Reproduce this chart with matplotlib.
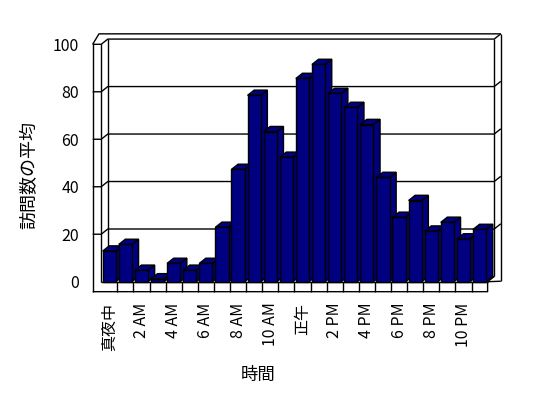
import matplotlib
matplotlib.use("Agg")
import matplotlib.pyplot as plt
from matplotlib.patches import Polygon

plt.rcParams['font.family'] = ['Noto Sans CJK JP', 'DejaVu Sans']

# average visits per hour (0 = midnight)
hours = list(range(24))
visits = [12.9, 15.7, 4.8, 1.2, 7.7, 4.8, 7.7, 22.9, 47.3, 78.5, 63.2, 52.4,
          85.6, 91.5, 79.3, 73.4, 66.2, 43.9, 27.1, 34.2, 21.3, 25.0, 18.0, 22.0]
tick_pos = [0, 2, 4, 6, 8, 10, 12, 14, 16, 18, 20, 22]
tick_labels = ['真夜中', '2 AM', '4 AM', '6 AM', '8 AM', '10 AM', '正午',
               '2 PM', '4 PM', '6 PM', '8 PM', '10 PM']
y_ticks = [0, 20, 40, 60, 80, 100]

# fake 3d look
DX, DY = 0.41, 2.2      # depth offset (categories, value units)
WT, FT = 0.53, 4.2      # wall / floor thickness
W = 0.82                # bar width
L, R = -0.5, 23.5
TOP = 100
bar_color = '#000080'

fig = plt.figure(figsize=(5.48, 3.98), dpi=100)
ax = fig.add_axes([0.1847, 0.2922, 0.7051, 0.5965])
ax.set_xlim(L, R)
ax.set_ylim(0, TOP)
for s in ax.spines.values():
    s.set_visible(False)
ax.patch.set_visible(False)

def line(xs, ys, z=1):
    ax.plot(xs, ys, color='black', lw=1, clip_on=False, zorder=z, solid_capstyle='butt')

# gridlines running over left wall, back wall and right edge
for v in y_ticks[1:]:
    line([L - WT, L, L + DX, R + DX, R + 2 * DX], [v, v, v + DY, v + DY, v + 2 * DY])
# outer top edge of the box
line([L - WT, L - WT + 0.39, R + 2 * DX], [TOP, TOP + 2 * DY, TOP + 2 * DY])
# verticals
line([L - WT, L - WT], [-FT, TOP])
line([L, L], [0, TOP])
line([L + DX, L + DX], [DY, TOP + DY])
line([R + DX, R + DX], [DY, TOP + DY])
line([R + 2 * DX, R + 2 * DX], [-FT + 2 * DY, TOP + 2 * DY])
# floor
line([L + DX, R + DX], [DY, DY])
line([R, R + DX], [0, DY])
line([L, R], [0, 0])
line([L - WT, R, R, R + 2 * DX], [-FT, -FT, 0, -FT + 2 * DY])
for k in range(1, 24):
    line([L + k, L + k], [-FT, 0])

# bars, left to right so each front hides the previous side
bars = ax.bar(hours, visits, width=W, color=bar_color, edgecolor='black',
              linewidth=1, clip_on=False)
for i, (h, v) in enumerate(zip(hours, visits)):
    x0, x1 = h - W / 2, h + W / 2
    side = Polygon([(x1, 0), (x1 + DX, DY), (x1 + DX, v + DY), (x1, v)],
                   closed=True, facecolor=bar_color, edgecolor='black', lw=1,
                   clip_on=False, zorder=5 + 3 * i)
    top = Polygon([(x0, v), (x1, v), (x1 + DX, v + DY), (x0 + DX, v + DY)],
                  closed=True, facecolor=bar_color, edgecolor='black', lw=1,
                  clip_on=False, zorder=5 + 3 * i)
    ax.add_patch(side)
    ax.add_patch(top)
    bars[i].set_zorder(6 + 3 * i)

ax.set_xticks(tick_pos, tick_labels, rotation=90, fontsize=11.5)
ax.set_yticks(y_ticks, [str(t) for t in y_ticks], fontsize=11.5)
ax.tick_params(axis='x', length=0, pad=15)
ax.tick_params(axis='y', length=0, pad=16)

ax.set_xlabel('時間', fontsize=12.5, va='center')
ax.xaxis.set_label_coords(0.406, -0.395)
ax.set_ylabel('訪問数の平均', fontsize=13, va='center')
ax.yaxis.set_label_coords(-0.185, 0.449)

fig.savefig('out.png', dpi=100)
